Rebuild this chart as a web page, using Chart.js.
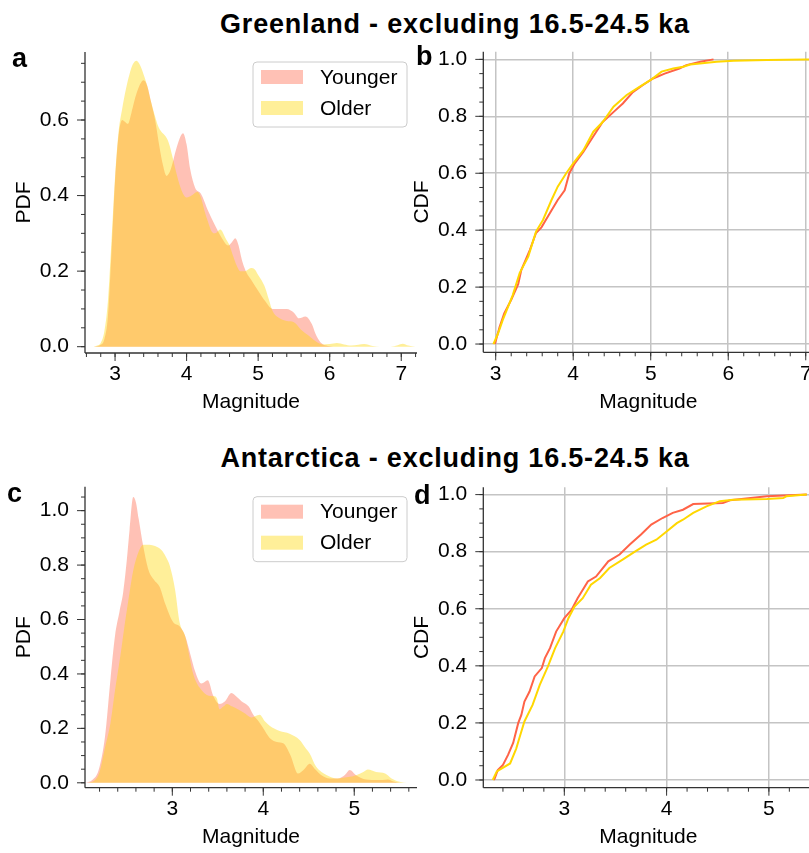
<!DOCTYPE html>
<html>
<head>
<meta charset="utf-8">
<script src="https://cdn.jsdelivr.net/npm/chart.js@4.4.1/dist/chart.umd.min.js"></script>
<style>
  body { margin: 0; overflow: hidden; background: #fff; width: 809px; height: 853px; position: relative;
         font-family: "Liberation Sans", Arial, sans-serif; }
  canvas { position: absolute; }
  .ttl { position: absolute; left: 0; width: 910px; text-align: center; font-weight: bold;
         font-size: 27px; line-height: 1; letter-spacing: 0.8px; }
  .lt { position: absolute; font-weight: bold; font-size: 27px; line-height: 1; }
</style>
</head>
<body>
<div class="ttl" style="top:11px">Greenland - excluding 16.5-24.5 ka</div>
<div class="ttl" style="top:445px">Antarctica - excluding 16.5-24.5 ka</div>

<canvas id="pa" width="420" height="380" style="left:0;top:40px"></canvas>
<canvas id="pb" width="430" height="380" style="left:400px;top:40px"></canvas>
<canvas id="pc" width="420" height="383" style="left:0;top:470px"></canvas>
<canvas id="pd" width="430" height="383" style="left:400px;top:470px"></canvas>

<div class="lt" style="left:12px;top:45px">a</div>
<div class="lt" style="left:416px;top:43px">b</div>
<div class="lt" style="left:7px;top:480px">c</div>
<div class="lt" style="left:414px;top:482px">d</div>

<script>
// ---- Greenland PDF (panel a)
const grYoungMag = [2.70, 2.80, 2.85, 2.90, 2.95, 3.00, 3.05, 3.10, 3.14, 3.18, 3.23, 3.30, 3.40, 3.45, 3.50, 3.56, 3.62, 3.67, 3.72, 3.78, 3.85, 3.90, 3.95, 4.00, 4.05, 4.12, 4.20, 4.30, 4.40, 4.50, 4.58, 4.63, 4.68, 4.72, 4.78, 4.84, 4.90, 5.00, 5.10, 5.20, 5.30, 5.40, 5.50, 5.57, 5.66, 5.75, 5.80, 5.87, 5.95, 6.05];
const grYoungPdf = [0, 0.005, 0.02, 0.08, 0.25, 0.44, 0.56, 0.60, 0.595, 0.59, 0.62, 0.67, 0.705, 0.69, 0.65, 0.60, 0.53, 0.48, 0.452, 0.47, 0.52, 0.55, 0.565, 0.535, 0.47, 0.42, 0.405, 0.36, 0.32, 0.285, 0.268, 0.276, 0.287, 0.272, 0.225, 0.195, 0.178, 0.148, 0.12, 0.10, 0.10, 0.10, 0.09, 0.075, 0.08, 0.06, 0.035, 0.012, 0.003, 0];
const grOldMag = [2.70, 2.75, 2.80, 2.85, 2.90, 2.95, 3.00, 3.05, 3.10, 3.15, 3.20, 3.25, 3.30, 3.35, 3.40, 3.45, 3.50, 3.55, 3.60, 3.65, 3.70, 3.75, 3.80, 3.85, 3.90, 3.95, 4.00, 4.07, 4.15, 4.20, 4.25, 4.30, 4.35, 4.40, 4.47, 4.55, 4.60, 4.65, 4.70, 4.75, 4.82, 4.90, 4.95, 5.00, 5.05, 5.10, 5.15, 5.20, 5.30, 5.40, 5.50, 5.60, 5.70, 5.80, 5.90, 6.00, 6.10, 6.20, 6.30, 6.40, 6.48, 6.60, 6.70, 6.85, 6.95, 7.02, 7.10, 7.20];
const grOldPdf = [0, 0.003, 0.01, 0.04, 0.12, 0.28, 0.45, 0.57, 0.63, 0.68, 0.72, 0.748, 0.757, 0.745, 0.72, 0.69, 0.65, 0.615, 0.585, 0.568, 0.558, 0.54, 0.505, 0.465, 0.43, 0.405, 0.395, 0.40, 0.41, 0.395, 0.36, 0.33, 0.305, 0.30, 0.31, 0.285, 0.268, 0.24, 0.215, 0.20, 0.20, 0.208, 0.205, 0.19, 0.175, 0.155, 0.125, 0.095, 0.075, 0.068, 0.065, 0.045, 0.03, 0.015, 0.006, 0.007, 0.01, 0.006, 0.003, 0.005, 0.007, 0.002, 0, 0, 0.004, 0.008, 0.003, 0];

// ---- Greenland CDF (panel b)
const grYoungCdfMag = [2.99, 3.05, 3.11, 3.20, 3.29, 3.33, 3.44, 3.52, 3.59, 3.70, 3.80, 3.89, 3.95, 4.02, 4.13, 4.26, 4.38, 4.54, 4.64, 4.77, 4.90, 5.03, 5.18, 5.37, 5.46, 5.64, 5.81];
const grYoungCdf = [0, 0.06, 0.108, 0.155, 0.21, 0.26, 0.33, 0.39, 0.41, 0.46, 0.506, 0.54, 0.60, 0.635, 0.675, 0.73, 0.78, 0.82, 0.845, 0.885, 0.91, 0.933, 0.95, 0.968, 0.98, 0.992, 1.0];
const grOldCdfMag = [2.97, 3.03, 3.09, 3.22, 3.31, 3.42, 3.52, 3.61, 3.72, 3.80, 3.91, 4.00, 4.13, 4.26, 4.38, 4.52, 4.69, 4.86, 5.01, 5.14, 5.29, 5.42, 5.51, 5.85, 6.07, 6.50, 7.01, 7.10];
const grOldCdf = [0, 0.037, 0.084, 0.172, 0.25, 0.307, 0.395, 0.436, 0.506, 0.553, 0.60, 0.635, 0.68, 0.746, 0.78, 0.834, 0.875, 0.904, 0.93, 0.957, 0.968, 0.974, 0.982, 0.992, 0.995, 0.998, 1.0, 1.0];

// ---- Antarctica PDF (panel c)
const anYoungMag = [2.05, 2.12, 2.19, 2.26, 2.32, 2.37, 2.42, 2.46, 2.50, 2.53, 2.57, 2.60, 2.63, 2.68, 2.74, 2.80, 2.86, 2.92, 3.01, 3.08, 3.14, 3.20, 3.25, 3.32, 3.39, 3.45, 3.52, 3.58, 3.65, 3.71, 3.76, 3.84, 3.89, 3.95, 4.00, 4.07, 4.15, 4.22, 4.30, 4.38, 4.45, 4.51, 4.57, 4.64, 4.73, 4.82, 4.90, 4.95, 5.02, 5.13, 5.25, 5.31, 5.37, 5.43, 5.50];
const anYoungPdf = [0, 0.01, 0.047, 0.17, 0.38, 0.54, 0.63, 0.70, 0.82, 0.93, 1.05, 1.03, 0.97, 0.87, 0.78, 0.745, 0.72, 0.66, 0.59, 0.575, 0.54, 0.47, 0.41, 0.365, 0.377, 0.32, 0.29, 0.30, 0.33, 0.315, 0.30, 0.28, 0.25, 0.225, 0.20, 0.165, 0.15, 0.145, 0.10, 0.034, 0.05, 0.07, 0.05, 0.028, 0.016, 0.016, 0.03, 0.047, 0.028, 0.012, 0.01, 0.01, 0.012, 0.005, 0];
const anOldMag = [2.08, 2.15, 2.20, 2.26, 2.32, 2.37, 2.43, 2.48, 2.53, 2.57, 2.63, 2.68, 2.75, 2.81, 2.88, 2.93, 2.97, 3.03, 3.08, 3.14, 3.23, 3.30, 3.40, 3.46, 3.49, 3.52, 3.56, 3.60, 3.66, 3.72, 3.80, 3.87, 3.96, 4.02, 4.07, 4.18, 4.29, 4.40, 4.46, 4.51, 4.58, 4.64, 4.70, 4.81, 4.95, 5.02, 5.10, 5.15, 5.24, 5.34, 5.41, 5.50, 5.58];
const anOldPdf = [0, 0.01, 0.04, 0.13, 0.22, 0.34, 0.47, 0.59, 0.70, 0.78, 0.85, 0.875, 0.875, 0.87, 0.855, 0.83, 0.80, 0.71, 0.59, 0.54, 0.40, 0.35, 0.32, 0.318, 0.31, 0.27, 0.28, 0.29, 0.28, 0.27, 0.255, 0.24, 0.25, 0.225, 0.21, 0.19, 0.18, 0.157, 0.13, 0.108, 0.06, 0.04, 0.028, 0.016, 0.022, 0.028, 0.04, 0.049, 0.04, 0.034, 0.016, 0.004, 0];

// ---- Antarctica CDF (panel d)
const anYoungCdfMag = [2.31, 2.32, 2.35, 2.40, 2.45, 2.50, 2.55, 2.58, 2.61, 2.66, 2.71, 2.78, 2.81, 2.86, 2.92, 3.00, 3.07, 3.13, 3.23, 3.31, 3.43, 3.54, 3.64, 3.75, 3.85, 3.96, 4.06, 4.16, 4.26, 4.55, 4.62, 4.98, 5.37];
const anYoungCdf = [0, 0.006, 0.035, 0.053, 0.088, 0.13, 0.20, 0.228, 0.275, 0.31, 0.363, 0.392, 0.427, 0.462, 0.52, 0.567, 0.596, 0.637, 0.696, 0.713, 0.766, 0.79, 0.825, 0.86, 0.895, 0.918, 0.936, 0.947, 0.967, 0.971, 0.98, 0.994, 1.0];
const anOldCdfMag = [2.30, 2.34, 2.47, 2.53, 2.56, 2.61, 2.69, 2.76, 2.84, 2.91, 2.99, 3.04, 3.10, 3.18, 3.26, 3.35, 3.44, 3.57, 3.69, 3.80, 3.90, 4.00, 4.10, 4.16, 4.26, 4.39, 4.52, 4.65, 4.98, 5.14, 5.17, 5.37];
const anOldCdf = [0, 0.03, 0.058, 0.11, 0.146, 0.205, 0.263, 0.333, 0.398, 0.462, 0.52, 0.567, 0.608, 0.637, 0.684, 0.708, 0.743, 0.772, 0.80, 0.825, 0.842, 0.871, 0.90, 0.912, 0.936, 0.959, 0.977, 0.982, 0.985, 0.988, 0.994, 1.0];

const seriesNames = ["Younger", "Older"];
const youngColor = "#ff6347";
const oldColor = "#ffd700";
const youngFill = "rgba(255,99,71,0.4)";
const oldFill = "rgba(255,215,0,0.4)";

Chart.defaults.font.family = '"Liberation Sans", Arial, sans-serif';
Chart.defaults.font.size = 21;
Chart.defaults.color = "#000";
Chart.defaults.animation = false;

const pts = (xs, ys) => xs.map((x, i) => ({ x: x, y: ys[i] }));

// spines + major/minor tick marks, matplotlib style
const decor = {
  id: "decor",
  afterDraw(chart) {
    const { ctx, chartArea: a, scales } = chart;
    ctx.save();
    ctx.strokeStyle = "#333";
    ctx.lineWidth = 1.3;
    ctx.beginPath();
    ctx.moveTo(a.left, a.top); ctx.lineTo(a.left, a.bottom);
    ctx.moveTo(a.left, a.bottom); ctx.lineTo(a.right, a.bottom);
    ctx.stroke();
    ctx.lineWidth = 1;
    ctx.beginPath();
    const marks = (sc, step, len, vert) => {
      const k0 = Math.ceil(sc.min / step - 1e-9), k1 = Math.floor(sc.max / step + 1e-9);
      for (let k = k0; k <= k1; k++) {
        const p = sc.getPixelForValue(k * step);
        if (vert) { ctx.moveTo(a.left, p); ctx.lineTo(a.left - len, p); }
        else { ctx.moveTo(p, a.bottom); ctx.lineTo(p, a.bottom + len); }
      }
    };
    marks(scales.x, 0.2, 4, false);
    marks(scales.x, 1, 8, false);
    marks(scales.y, 0.05, 4, true);
    marks(scales.y, 0.2, 8, true);
    ctx.stroke();
    ctx.restore();
  }
};

// legend box in the upper right of the PDF panels
const legendBox = {
  id: "legendBox",
  afterDraw(chart, args, o) {
    if (!o.show) return;
    const { ctx, chartArea: a } = chart;
    const w = 154, h = 65, L = a.right - w - 10, T = a.top + 10;
    ctx.save();
    ctx.beginPath();
    ctx.roundRect(L, T, w, h, 4);
    ctx.fillStyle = "rgba(255,255,255,0.8)";
    ctx.fill();
    ctx.strokeStyle = "#cccccc";
    ctx.lineWidth = 1;
    ctx.stroke();
    ctx.font = '21px "Liberation Sans", Arial, sans-serif';
    ctx.textBaseline = "middle";
    chart.data.datasets.forEach((d, i) => {
      const cy = T + 15 + i * 31;
      ctx.fillStyle = d.backgroundColor;
      ctx.fillRect(L + 8, cy - 7, 42, 14);
      ctx.fillStyle = "#000";
      ctx.fillText(d.label, L + 67, cy + 1);
    });
    ctx.restore();
  }
};

function pdfSets(ym, yv, om, ov) {
  return [
    { label: seriesNames[0], data: pts(ym, yv), fill: "origin", backgroundColor: youngFill,
      borderColor: "transparent", borderWidth: 0, pointRadius: 0, cubicInterpolationMode: "monotone", order: 2 },
    { label: seriesNames[1], data: pts(om, ov), fill: "origin", backgroundColor: oldFill,
      borderColor: "transparent", borderWidth: 0, pointRadius: 0, cubicInterpolationMode: "monotone", order: 1 }
  ];
}

function cdfSets(ym, yv, om, ov) {
  return [
    { label: seriesNames[0], data: pts(ym, yv), fill: false, borderColor: youngColor,
      backgroundColor: youngColor, borderWidth: 2, pointRadius: 0, tension: 0, order: 2 },
    { label: seriesNames[1], data: pts(om, ov), fill: false, borderColor: oldColor,
      backgroundColor: oldColor, borderWidth: 2, pointRadius: 0, tension: 0, order: 1 }
  ];
}

// no automatic label margins: the chart area is set by padding + fixed axis sizes
const noPad = (s) => { s.paddingTop = 0; s.paddingBottom = 0; s.paddingLeft = 0; s.paddingRight = 0; };

function panel(id, o) {
  return new Chart(document.getElementById(id), {
    type: "line",
    data: { datasets: o.datasets },
    options: {
      responsive: false,
      layout: { padding: { top: o.padTop, right: o.padRight, left: 0, bottom: 0 } },
      plugins: {
        legend: { display: false },
        tooltip: { enabled: false },
        legendBox: { show: o.legend }
      },
      scales: {
        x: {
          type: "linear", min: o.xMin, max: o.xMax,
          afterFit: (s) => { s.height = o.xH; noPad(s); },
          border: { display: false },
          grid: { display: o.grid, drawTicks: false, color: "#c4c4c4", lineWidth: 1.5 },
          ticks: { stepSize: 1, includeBounds: false, padding: 9, maxRotation: 0, autoSkip: false,
                   callback: (v) => v },
          title: { display: true, text: "Magnitude", padding: { top: 0, bottom: o.xTitlePad } }
        },
        y: {
          type: "linear", min: o.yMin, max: o.yMax,
          afterFit: (s) => { s.width = o.yW; noPad(s); },
          border: { display: false },
          grid: { display: o.grid, drawTicks: false, color: "#c4c4c4", lineWidth: 1.5 },
          ticks: { stepSize: 0.2, includeBounds: false, padding: 16, autoSkip: false,
                   callback: (v) => v.toFixed(1) },
          title: { display: true, text: o.yTitle, padding: { top: o.yTitlePad, bottom: 0 } }
        }
      }
    },
    plugins: [decor, legendBox]
  });
}

panel("pa", {
  datasets: pdfSets(grYoungMag, grYoungPdf, grOldMag, grOldPdf), legend: true, grid: false,
  xMin: 2.58, xMax: 7.22, yMin: -0.0167, yMax: 0.78,
  padTop: 12, padRight: 3, yW: 85, xH: 67, xTitlePad: 5, yTitle: "PDF", yTitlePad: 12
});
panel("pb", {
  datasets: cdfSets(grYoungCdfMag, grYoungCdf, grOldCdfMag, grOldCdf), legend: false, grid: true,
  xMin: 2.84, xMax: 7.10, yMin: -0.029, yMax: 1.027,
  padTop: 11.7, padRight: 16.5, yW: 83.3, xH: 67.7, xTitlePad: 5, yTitle: "CDF", yTitlePad: 10
});
panel("pc", {
  datasets: pdfSets(anYoungMag, anYoungPdf, anOldMag, anOldPdf), legend: true, grid: false,
  xMin: 2.04, xMax: 5.69, yMin: -0.018, yMax: 1.088,
  padTop: 16.7, padRight: 3, yW: 85, xH: 65.3, xTitlePad: 3, yTitle: "PDF", yTitlePad: 12
});
panel("pd", {
  datasets: cdfSets(anYoungCdfMag, anYoungCdf, anOldCdfMag, anOldCdf), legend: false, grid: true,
  xMin: 2.208, xMax: 5.436, yMin: -0.027, yMax: 1.0256,
  padTop: 17.3, padRight: 16.5, yW: 83.3, xH: 65.3, xTitlePad: 3, yTitle: "CDF", yTitlePad: 10
});
</script>
</body>
</html>
